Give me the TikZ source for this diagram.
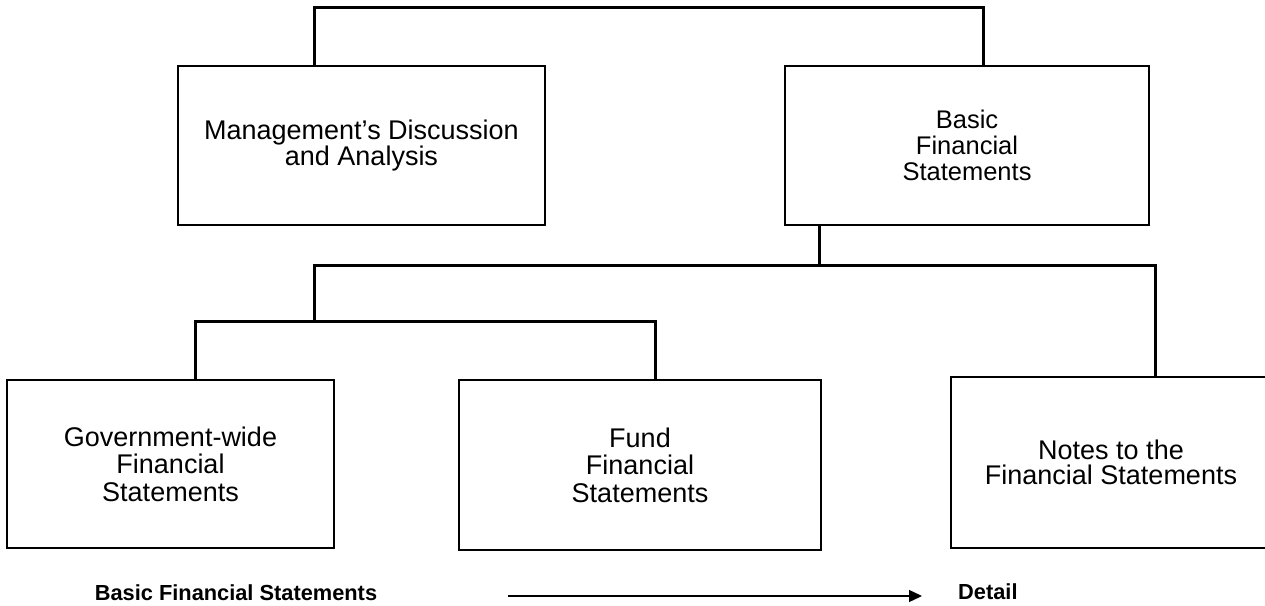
\documentclass[tikz,border=0pt]{standalone}
\usepackage{fontspec}
\setmainfont{Liberation Sans}
\usetikzlibrary{arrows.meta}
\begin{document}
\begin{tikzpicture}[x=1pt,y=-1pt,
  box/.style={draw=black, line width=1.4pt, inner sep=0pt, outer sep=0pt, align=center, anchor=center},
  bigtxt/.style={font=\fontsize{27}{25}\selectfont},
  gtxt/.style={font=\fontsize{27}{27.5}\selectfont},
  btxt/.style={font=\fontsize{25.5}{26}\selectfont},
  conn/.style={draw=black, line width=3pt},
  foot/.style={font=\fontsize{21.8}{24}\selectfont\bfseries, inner sep=0pt},
  arr/.style={draw=black, line width=1.3pt, -{Triangle[length=13pt,width=12pt]}}
]
\useasboundingbox (0,0) rectangle (1265,605);
\fill[white] (0,0) rectangle (1265,605);
\clip (0,0) rectangle (1265,605);

% boxes
\node[box, bigtxt, minimum width=367pt, minimum height=159pt] (mda) at (361.5,145.5) {Management’s Discussion\\and Analysis};
\node[box, btxt, minimum width=364pt, minimum height=159pt] (bfs) at (967,145.5) {Basic\\Financial\\Statements};
\node[box, gtxt, minimum width=327pt, minimum height=168pt] (gov) at (170.5,464) {Government-wide\\Financial\\Statements};
\node[box, gtxt, minimum width=362pt, minimum height=170pt] (fund) at (640,465) {Fund\\Financial\\Statements};
\node[box, bigtxt, minimum width=320pt, minimum height=171pt] (notes) at (1111,462.5) {Notes to the\\Financial Statements};

% attach points
\coordinate (aMda) at (314,66);
\coordinate (aBfsT) at (983,66);
\coordinate (aBfsB) at (819,225);
\coordinate (aGov) at (195,380);
\coordinate (aFund) at (655,380);
\coordinate (aNotes) at (1155,377);
\coordinate (h1) at (314,265);
\coordinate (h2) at (314,321);

% connectors
\draw[conn] (aMda) -- ++(0,-59) -| (aBfsT);
\draw[conn] (aBfsB) -- (aBfsB |- h1);
\draw[conn] (aNotes) |- (h1) -- (h2);
\draw[conn] (aGov) |- (h2) -| (aFund);

% footer
\node[foot, anchor=base] (footL) at (236,600) {Basic Financial Statements};
\node[foot, anchor=base west] (footR) at (958,599) {Detail};
\coordinate (arS) at (508,596);
\coordinate (arE) at (922,596);
\draw[arr] (arS) -- (arE);
\end{tikzpicture}
\end{document}
